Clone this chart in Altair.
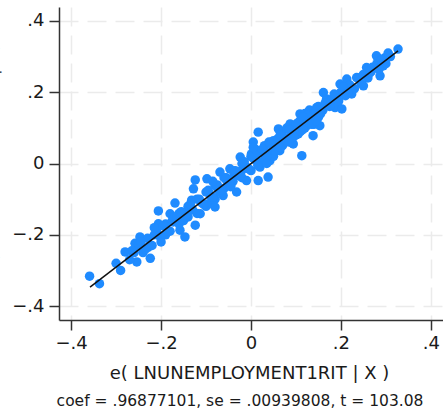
import altair as alt
import pandas as pd

# Residual points (x = e(LNUNEMPLOYMENT1RIT | X), y = e(dep. var | X))
pt_x = [
    -0.359, -0.337, -0.280, -0.254, -0.258, -0.247, -0.224, -0.229, -0.206, -0.206,
    -0.202, -0.180, -0.169, -0.173, -0.158, -0.147, -0.139, -0.132, -0.128, -0.124,
    -0.124, -0.113, -0.098, -0.095, -0.080, -0.076, -0.069, -0.062, -0.054, -0.047,
    -0.032, -0.039, -0.024, -0.021, -0.010, 0.001, 0.005, 0.016, 0.016, 0.020,
    0.027, 0.038, 0.042, 0.050, 0.061, 0.064, 0.072, 0.087, 0.094, 0.105,
    0.109, 0.113, 0.124, 0.131, 0.138, 0.146, 0.153, 0.161, 0.168, 0.187,
    0.198, 0.202, 0.213, 0.224, 0.235, 0.250, 0.257, 0.268, 0.279, 0.287,
    0.294, 0.298, 0.327,
    -0.300, -0.290, -0.270, -0.260, -0.250, -0.240, -0.230, -0.220, -0.210, -0.200,
    -0.190, -0.190, -0.180, -0.170, -0.160, -0.160, -0.150, -0.140, -0.140, -0.130,
    -0.120, -0.120, -0.110, -0.100, -0.100, -0.090, -0.080, -0.080, -0.070, -0.060,
    -0.060, -0.050, -0.040, -0.040, -0.030, -0.020, -0.020, -0.010, 0.000, 0.000,
    0.010, 0.010, 0.020, 0.020, 0.030, 0.030, 0.040, 0.040, 0.050, 0.050,
    0.060, 0.060, 0.070, 0.070, 0.080, 0.080, 0.090, 0.090, 0.100, 0.100,
    0.110, 0.110, 0.120, 0.120, 0.130, 0.130, 0.140, 0.140, 0.150, 0.150,
    0.160, 0.170, 0.180, 0.190, 0.200, 0.210, 0.220, 0.230, 0.240, 0.250,
    0.260, 0.270, 0.280, 0.290, 0.300, 0.310,
    -0.265, -0.245, -0.235, -0.215, -0.195, -0.185, -0.175, -0.165, -0.155, -0.145,
    -0.135, -0.115, -0.105, -0.095, -0.085, -0.075, -0.065, -0.055, -0.045, -0.035,
    -0.025, -0.015, -0.005, 0.005, 0.015, 0.025, 0.035, 0.045, 0.055, 0.065,
    0.075, 0.085, 0.095, 0.105, 0.115, 0.125, 0.135, 0.145, 0.155, 0.165,
    0.175, 0.185, 0.195, 0.205, 0.215, 0.245, 0.265, 0.285, 0.305, -0.215,
    0.035, 0.065, 0.085, 0.115, -0.085, -0.045, 0.005, 0.145,
]
pt_y = [
    -0.316, -0.337, -0.248, -0.276, -0.224, -0.206, -0.266, -0.235, -0.133, -0.169,
    -0.206, -0.141, -0.111, -0.164, -0.187, -0.206, -0.131, -0.103, -0.071, -0.046,
    -0.173, -0.141, -0.043, -0.113, -0.122, -0.066, -0.024, -0.090, -0.048, -0.015,
    -0.080, -0.038, 0.018, -0.020, -0.048, 0.027, 0.060, 0.088, -0.048, -0.010,
    0.032, -0.038, 0.008, 0.064, 0.097, 0.036, 0.074, 0.111, 0.055, 0.083,
    0.139, 0.022, 0.106, 0.148, 0.078, 0.157, 0.106, 0.199, 0.181, 0.157,
    0.223, 0.153, 0.237, 0.195, 0.241, 0.218, 0.269, 0.260, 0.302, 0.246,
    0.274, 0.297, 0.321,
    -0.280, -0.300, -0.270, -0.250, -0.230, -0.250, -0.210, -0.230, -0.190, -0.220,
    -0.170, -0.200, -0.190, -0.150, -0.170, -0.140, -0.160, -0.120, -0.150, -0.130,
    -0.100, -0.140, -0.110, -0.080, -0.120, -0.090, -0.060, -0.100, -0.080, -0.040,
    -0.070, -0.060, -0.020, -0.050, -0.030, 0.000, -0.040, -0.010, 0.020, -0.020,
    0.010, 0.040, 0.000, 0.030, 0.050, 0.010, 0.030, 0.060, 0.020, 0.050,
    0.070, 0.040, 0.090, 0.050, 0.070, 0.100, 0.060, 0.090, 0.110, 0.080,
    0.120, 0.090, 0.140, 0.100, 0.120, 0.150, 0.110, 0.140, 0.160, 0.130,
    0.150, 0.170, 0.180, 0.190, 0.200, 0.190, 0.220, 0.210, 0.240, 0.250,
    0.240, 0.270, 0.280, 0.290, 0.280, 0.300,
    -0.245, -0.220, -0.240, -0.200, -0.175, -0.190, -0.160, -0.150, -0.135, -0.150,
    -0.115, -0.100, -0.115, -0.075, -0.095, -0.060, -0.075, -0.040, -0.060, -0.020,
    -0.035, 0.005, -0.015, 0.015, -0.005, 0.040, 0.020, 0.055, 0.035, 0.080,
    0.060, 0.095, 0.075, 0.115, 0.095, 0.135, 0.110, 0.150, 0.140, 0.170,
    0.160, 0.195, 0.175, 0.215, 0.200, 0.225, 0.255, 0.265, 0.310, -0.180,
    0.000, 0.045, 0.060, 0.130, -0.050, -0.065, 0.045, 0.120,
]

# Fitted line end points
line_x = [-0.358, 0.327]
line_y = [-0.347, 0.316]

tick_values = [-0.4, -0.2, 0.0, 0.2, 0.4]
x_title = "e( LNUNEMPLOYMENT1RIT | X )"
y_title = "e( LNUNEMPLOYMENT2RIT | X )"
coef_text = "coef = .96877101, se = .00939808, t = 103.08"

FONT = "DejaVu Sans"
TXT = "#1a1a1a"
label_expr = "datum.value == 0 ? '0' : replace(format(datum.value, '.1f'), '0.', '.')"

pts = pd.DataFrame({"x": pt_x, "y": pt_y})
ln = pd.DataFrame({"x": line_x, "y": line_y})
txt = pd.DataFrame({"t": [coef_text]})

xscale = alt.Scale(domain=[-0.427, 0.427], nice=False, zero=False)
yscale = alt.Scale(domain=[-0.439, 0.439], nice=False, zero=False)

xaxis = alt.Axis(
    values=tick_values, labelExpr=label_expr, title=x_title,
    grid=True, gridColor="#ebebeb", gridWidth=1.5, gridDash=[19, 9],
    domainColor="#333333", domainWidth=1.5, tickColor="#333333", tickWidth=1.5,
    tickSize=10, labelPadding=4, labelFont=FONT, labelFontSize=18, labelColor=TXT,
    titleFont=FONT, titleFontSize=18, titleFontWeight="normal", titleColor=TXT,
    titleX=190, titleY=58, titleBaseline="alphabetic", titleAlign="center",
)
yaxis = alt.Axis(
    values=tick_values, labelExpr=label_expr, title=y_title,
    grid=True, gridColor="#ebebeb", gridWidth=1.5, gridDash=[19, 9],
    domainColor="#333333", domainWidth=1.5, tickColor="#333333", tickWidth=1.5,
    tickSize=10, labelPadding=5, labelFont=FONT, labelFontSize=18, labelColor=TXT,
    titleFont=FONT, titleFontSize=14.5, titleFontWeight="normal", titleColor=TXT,
    titleX=-62, titleY=150, titleAngle=270, titleBaseline="alphabetic", titleAlign="center",
)

points = alt.Chart(pts).mark_circle(size=90, opacity=1, color="#1f8bff").encode(
    x=alt.X("x:Q", scale=xscale, axis=xaxis),
    y=alt.Y("y:Q", scale=yscale, axis=yaxis),
)
fit = alt.Chart(ln).mark_line(color="#111111", strokeWidth=1.5).encode(
    x=alt.X("x:Q", scale=xscale),
    y=alt.Y("y:Q", scale=yscale),
)
note = alt.Chart(txt).mark_text(
    font=FONT, fontSize=15.5, color=TXT, align="center", baseline="alphabetic"
).encode(x=alt.value(181), y=alt.value(399), text="t:N")

chart = alt.layer(points, fit, note).properties(
    width=384, height=313,
    autosize=alt.AutoSizeParams(type="none"),
    padding={"left": 59, "top": 7, "right": 0, "bottom": 94},
    background="white",
).configure_view(stroke=None)

chart.save("out.html", embed_options={"renderer": "svg", "actions": False})
